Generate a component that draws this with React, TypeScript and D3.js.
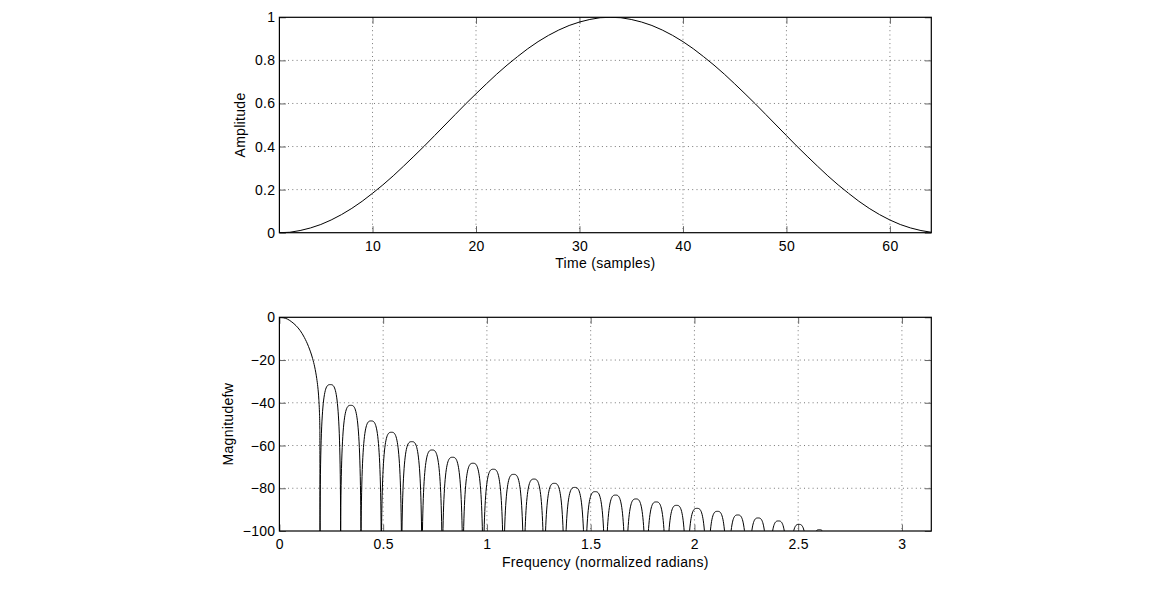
import { useEffect, useRef } from "react";
import * as d3 from "d3";

// Window samples (amplitude, samples 1..64)
const windowValues = [
  0, 0.002, 0.01, 0.022, 0.038, 0.059, 0.084, 0.113, 0.146, 0.183, 0.222,
  0.264, 0.309, 0.355, 0.402, 0.451, 0.5, 0.549, 0.598, 0.645, 0.691, 0.736,
  0.778, 0.817, 0.854, 0.887, 0.916, 0.941, 0.962, 0.978, 0.99, 0.998, 1.0,
  0.998, 0.99, 0.978, 0.962, 0.941, 0.916, 0.887, 0.854, 0.817, 0.778, 0.736,
  0.691, 0.645, 0.598, 0.549, 0.5, 0.451, 0.402, 0.355, 0.309, 0.264, 0.222,
  0.183, 0.146, 0.113, 0.084, 0.059, 0.038, 0.022, 0.01, 0.002,
];

// Main lobe of the magnitude response: [frequency, dB]
const mainLobe: [number, number][] = [
  [0, 0], [0.02, -0.2], [0.04, -0.9], [0.06, -2.2], [0.08, -3.9],
  [0.1, -6.2], [0.12, -9.4], [0.14, -13.6], [0.16, -19.3], [0.17, -23.2],
  [0.18, -28.7], [0.185, -32.5], [0.19, -38.3], [0.193, -44.4],
  [0.195, -52.6], [0.196, -130],
];

// Nulls between side lobes (rad)
const nullFreqs = [
  0.196, 0.295, 0.393, 0.491, 0.589, 0.687, 0.785, 0.884, 0.982, 1.08,
  1.178, 1.276, 1.374, 1.473, 1.571, 1.669, 1.767, 1.865, 1.963, 2.062,
  2.16, 2.258, 2.356, 2.454, 2.553, 2.651,
];

// Peak of each side lobe (dB)
const lobePeaks = [
  -31.5, -41.2, -48.5, -53.8, -58.2, -62.1, -65.5, -68.3, -71.1, -73.5,
  -75.7, -77.7, -79.6, -81.6, -83.2, -85.0, -86.4, -88.0, -89.4, -90.8,
  -92.5, -93.9, -95.3, -96.9, -99.4,
];

const timeTicks = [10, 20, 30, 40, 50, 60];
const ampTicks = [0, 0.2, 0.4, 0.6, 0.8, 1];
const freqTicks = [0, 0.5, 1, 1.5, 2, 2.5, 3];
const magTicks = [-100, -80, -60, -40, -20, 0];

const WIDTH = 1150;
const HEIGHT = 609;
const FONT = "'Liberation Sans', Arial, Helvetica, sans-serif";
const FONT_SIZE = "14px";
const SPACING = "0.3px";

export default function App() {
  const svgRef = useRef<SVGSVGElement>(null);

  useEffect(() => {
    if (!svgRef.current) return;
    const svg = d3.select(svgRef.current);
    svg.selectAll("*").remove();

    const left = 279.4;
    const right = 931.3;

    const xTime = d3.scaleLinear().domain([1, 64]).range([left, right]);
    const yAmp = d3.scaleLinear().domain([0, 1]).range([232.7, 17.3]);
    const xFreq = d3.scaleLinear().domain([0, Math.PI]).range([left, right]);
    const yMag = d3.scaleLinear().domain([-100, 0]).range([531, 317.3]);

    const minus = (s: string) => s.replace("-", "\u2212");

    function drawAxes(
      x: d3.ScaleLinear<number, number>,
      y: d3.ScaleLinear<number, number>,
      xTicks: number[],
      yTicks: number[],
      yFmt: (d: number) => string,
      xLabel: string,
      yLabel: string,
      yLabelX: number,
      clipId: string
    ) {
      const [x0, x1] = x.range();
      const [y0, y1] = y.range(); // y0 bottom, y1 top

      svg.append("defs")
        .append("clipPath")
        .attr("id", clipId)
        .append("rect")
        .attr("x", x0)
        .attr("y", y1)
        .attr("width", x1 - x0)
        .attr("height", y0 - y1);

      // dotted grid
      const grid = svg.append("g")
        .attr("stroke", "#777")
        .attr("stroke-width", 1)
        .attr("stroke-dasharray", "1 3.3");
      xTicks.filter(t => x(t) > x0 + 1 && x(t) < x1 - 1).forEach(t => {
        grid.append("line")
          .attr("x1", x(t)).attr("x2", x(t))
          .attr("y1", y1).attr("y2", y0);
      });
      yTicks.filter(t => y(t) < y0 - 1 && y(t) > y1 + 1).forEach(t => {
        grid.append("line")
          .attr("x1", x0).attr("x2", x1)
          .attr("y1", y(t)).attr("y2", y(t));
      });

      const styleAxis = (g: d3.Selection<SVGGElement, unknown, null, undefined>) => {
        g.select(".domain").remove();
        g.selectAll("line").attr("stroke", "#666").attr("stroke-width", 1);
        g.selectAll("text")
          .attr("fill", "#000")
          .attr("font-size", FONT_SIZE)
          .attr("letter-spacing", SPACING)
          .attr("font-family", FONT);
        g.attr("font-family", FONT);
      };

      svg.append("g")
        .attr("transform", `translate(0,${y0})`)
        .call(d3.axisBottom(x).tickValues(xTicks).tickSize(-6.5).tickSizeOuter(0)
          .tickPadding(8.1).tickFormat(d => String(d)))
        .call(styleAxis);
      svg.append("g")
        .attr("transform", `translate(0,${y1})`)
        .call(d3.axisTop(x).tickValues(xTicks).tickSize(-6.5).tickSizeOuter(0)
          .tickFormat(() => ""))
        .call(styleAxis);
      svg.append("g")
        .attr("transform", `translate(${x0},0)`)
        .call(d3.axisLeft(y).tickValues(yTicks).tickSize(-6.5).tickSizeOuter(0)
          .tickPadding(4).tickFormat(d => yFmt(d as number)))
        .call(styleAxis);
      svg.append("g")
        .attr("transform", `translate(${x1},0)`)
        .call(d3.axisRight(y).tickValues(yTicks).tickSize(-6.5).tickSizeOuter(0)
          .tickFormat(() => ""))
        .call(styleAxis);

      // box
      svg.append("rect")
        .attr("x", x0)
        .attr("y", y1)
        .attr("width", x1 - x0)
        .attr("height", y0 - y1)
        .attr("fill", "none")
        .attr("stroke", "#000")
        .attr("stroke-width", 1.2);

      svg.append("text")
        .attr("x", (x0 + x1) / 2)
        .attr("y", y0 + 35.7)
        .attr("text-anchor", "middle")
        .attr("font-family", FONT)
        .attr("font-size", FONT_SIZE)
        .attr("letter-spacing", SPACING)
        .text(xLabel);

      svg.append("text")
        .attr("transform", `translate(${yLabelX},${(y0 + y1) / 2}) rotate(-90)`)
        .attr("text-anchor", "middle")
        .attr("font-family", FONT)
        .attr("font-size", FONT_SIZE)
        .attr("letter-spacing", SPACING)
        .text(yLabel);
    }

    drawAxes(xTime, yAmp, timeTicks, ampTicks, d => String(d),
      "Time (samples)", "Amplitude", 245, "clipTop");
    drawAxes(xFreq, yMag, freqTicks, magTicks, d => minus(String(d)),
      "Frequency (normalized radians)", "Magnitudefw", 233, "clipBottom");

    // Window curve
    const windowLine = d3.line<number>()
      .x((_, i) => xTime(i + 1))
      .y(d => yAmp(d));
    svg.append("path")
      .datum(windowValues)
      .attr("clip-path", "url(#clipTop)")
      .attr("fill", "none")
      .attr("stroke", "#000")
      .attr("stroke-width", 1)
      .attr("d", windowLine);

    // Magnitude response: main lobe
    const magLine = d3.line<[number, number]>()
      .x(d => xFreq(d[0]))
      .y(d => yMag(d[1]))
      .curve(d3.curveMonotoneX);
    const magGroup = svg.append("g").attr("clip-path", "url(#clipBottom)");
    magGroup.append("path")
      .datum(mainLobe)
      .attr("fill", "none")
      .attr("stroke", "#000")
      .attr("stroke-width", 1)
      .attr("d", magLine);

    // Side lobes: each lobe rises from its left null to its peak and back down
    const depth = 70;
    lobePeaks.forEach((peak, i) => {
      const fa = nullFreqs[i];
      const fb = nullFreqs[i + 1];
      const xa = xFreq(fa);
      const xb = xFreq(fb);
      const xm = (xa + xb) / 2;
      const half = (xb - xa) / 2;
      const yp = yMag(peak);
      const ylow = yMag(peak - depth);
      const yfloor = yMag(-130);
      const p = d3.path();
      p.moveTo(xa, yfloor);
      p.lineTo(xa, ylow);
      p.bezierCurveTo(xa, yp, xm - half * 0.5, yp, xm, yp);
      p.bezierCurveTo(xm + half * 0.5, yp, xb, yp, xb, ylow);
      p.lineTo(xb, yfloor);
      magGroup.append("path")
        .attr("fill", "none")
        .attr("stroke", "#000")
        .attr("stroke-width", 1)
        .attr("d", p.toString());
    });
  }, []);

  return (
    <svg
      ref={svgRef}
      width={WIDTH}
      height={HEIGHT}
      viewBox={`0 0 ${WIDTH} ${HEIGHT}`}
      style={{ position: "absolute", left: 0, top: 0, background: "#fff" }}
    />
  );
}
